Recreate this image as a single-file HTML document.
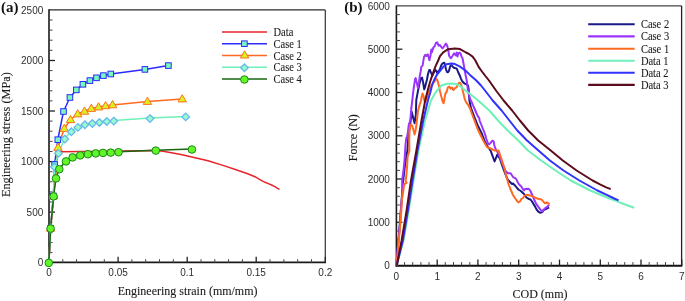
<!DOCTYPE html>
<html><head><meta charset="utf-8"><style>
html,body{margin:0;padding:0;background:#fff;}
body{width:685px;height:301px;overflow:hidden;}
svg{display:block;filter:blur(0.3px);}
.tk{font-family:"Liberation Sans",sans-serif;font-size:10px;fill:#2e2e2e;}
.ti{font-family:"Liberation Serif",serif;font-size:12px;fill:#1a1a1a;stroke:#1a1a1a;stroke-width:0.1px;}
.lg{font-family:"Liberation Serif",serif;font-size:10.5px;fill:#1a1a1a;stroke:#1a1a1a;stroke-width:0.08px;}
.pl{font-family:"Liberation Serif",serif;font-size:13.5px;font-weight:bold;fill:#111;}
</style></head><body>
<svg width="685" height="301" viewBox="0 0 685 301">
<rect width="685" height="301" fill="#fff"/>
<line x1="49.0" y1="9.9" x2="325.3" y2="9.9" stroke="#2a2a2a" stroke-width="1.3"/>
<line x1="325.3" y1="9.9" x2="325.3" y2="262.7" stroke="#333" stroke-width="1.2"/>
<line x1="49.0" y1="9.3" x2="49.0" y2="263.5" stroke="#1a1a1a" stroke-width="1.6"/>
<line x1="48.2" y1="262.34999999999997" x2="325.90000000000003" y2="262.34999999999997" stroke="#1a1a1a" stroke-width="1.6"/>
<line x1="49.0" y1="252.6" x2="52.5" y2="252.6" stroke="#444" stroke-width="1"/>
<line x1="49.0" y1="242.5" x2="52.5" y2="242.5" stroke="#444" stroke-width="1"/>
<line x1="49.0" y1="232.4" x2="52.5" y2="232.4" stroke="#444" stroke-width="1"/>
<line x1="49.0" y1="222.3" x2="52.5" y2="222.3" stroke="#444" stroke-width="1"/>
<line x1="49.0" y1="212.1" x2="55.0" y2="212.1" stroke="#222" stroke-width="1.3"/>
<line x1="49.0" y1="202.0" x2="52.5" y2="202.0" stroke="#444" stroke-width="1"/>
<line x1="49.0" y1="191.9" x2="52.5" y2="191.9" stroke="#444" stroke-width="1"/>
<line x1="49.0" y1="181.8" x2="52.5" y2="181.8" stroke="#444" stroke-width="1"/>
<line x1="49.0" y1="171.7" x2="52.5" y2="171.7" stroke="#444" stroke-width="1"/>
<line x1="49.0" y1="161.6" x2="55.0" y2="161.6" stroke="#222" stroke-width="1.3"/>
<line x1="49.0" y1="151.5" x2="52.5" y2="151.5" stroke="#444" stroke-width="1"/>
<line x1="49.0" y1="141.4" x2="52.5" y2="141.4" stroke="#444" stroke-width="1"/>
<line x1="49.0" y1="131.2" x2="52.5" y2="131.2" stroke="#444" stroke-width="1"/>
<line x1="49.0" y1="121.1" x2="52.5" y2="121.1" stroke="#444" stroke-width="1"/>
<line x1="49.0" y1="111.0" x2="55.0" y2="111.0" stroke="#222" stroke-width="1.3"/>
<line x1="49.0" y1="100.9" x2="52.5" y2="100.9" stroke="#444" stroke-width="1"/>
<line x1="49.0" y1="90.8" x2="52.5" y2="90.8" stroke="#444" stroke-width="1"/>
<line x1="49.0" y1="80.7" x2="52.5" y2="80.7" stroke="#444" stroke-width="1"/>
<line x1="49.0" y1="70.6" x2="52.5" y2="70.6" stroke="#444" stroke-width="1"/>
<line x1="49.0" y1="60.5" x2="55.0" y2="60.5" stroke="#222" stroke-width="1.3"/>
<line x1="49.0" y1="50.3" x2="52.5" y2="50.3" stroke="#444" stroke-width="1"/>
<line x1="49.0" y1="40.2" x2="52.5" y2="40.2" stroke="#444" stroke-width="1"/>
<line x1="49.0" y1="30.1" x2="52.5" y2="30.1" stroke="#444" stroke-width="1"/>
<line x1="49.0" y1="20.0" x2="52.5" y2="20.0" stroke="#444" stroke-width="1"/>
<line x1="62.8" y1="262.7" x2="62.8" y2="259.2" stroke="#444" stroke-width="1"/>
<line x1="76.6" y1="262.7" x2="76.6" y2="259.2" stroke="#444" stroke-width="1"/>
<line x1="90.4" y1="262.7" x2="90.4" y2="259.2" stroke="#444" stroke-width="1"/>
<line x1="104.3" y1="262.7" x2="104.3" y2="259.2" stroke="#444" stroke-width="1"/>
<line x1="118.1" y1="262.7" x2="118.1" y2="256.7" stroke="#222" stroke-width="1.3"/>
<line x1="131.9" y1="262.7" x2="131.9" y2="259.2" stroke="#444" stroke-width="1"/>
<line x1="145.7" y1="262.7" x2="145.7" y2="259.2" stroke="#444" stroke-width="1"/>
<line x1="159.5" y1="262.7" x2="159.5" y2="259.2" stroke="#444" stroke-width="1"/>
<line x1="173.3" y1="262.7" x2="173.3" y2="259.2" stroke="#444" stroke-width="1"/>
<line x1="187.2" y1="262.7" x2="187.2" y2="256.7" stroke="#222" stroke-width="1.3"/>
<line x1="201.0" y1="262.7" x2="201.0" y2="259.2" stroke="#444" stroke-width="1"/>
<line x1="214.8" y1="262.7" x2="214.8" y2="259.2" stroke="#444" stroke-width="1"/>
<line x1="228.6" y1="262.7" x2="228.6" y2="259.2" stroke="#444" stroke-width="1"/>
<line x1="242.4" y1="262.7" x2="242.4" y2="259.2" stroke="#444" stroke-width="1"/>
<line x1="256.2" y1="262.7" x2="256.2" y2="256.7" stroke="#222" stroke-width="1.3"/>
<line x1="270.0" y1="262.7" x2="270.0" y2="259.2" stroke="#444" stroke-width="1"/>
<line x1="283.9" y1="262.7" x2="283.9" y2="259.2" stroke="#444" stroke-width="1"/>
<line x1="297.7" y1="262.7" x2="297.7" y2="259.2" stroke="#444" stroke-width="1"/>
<line x1="311.5" y1="262.7" x2="311.5" y2="259.2" stroke="#444" stroke-width="1"/>
<line x1="325.3" y1="262.7" x2="325.3" y2="256.7" stroke="#222" stroke-width="1.3"/>
<polyline points="48.9,262.6 50.7,228.2 53.6,196.0 57.3,152.0 61.5,151.7 80.0,151.6 100.0,151.4 122.0,150.9 140.0,150.7 155.8,150.6 163.0,151.3 170.0,152.4 181.0,154.5 194.0,157.6 208.0,160.8 223.0,165.4 238.3,170.5 247.0,173.5 255.0,176.7 258.3,178.7 261.6,180.6 265.0,182.3 268.3,183.6 271.6,185.0 274.9,186.6 277.6,188.3 279.6,189.3" fill="none" stroke="#e8232b" stroke-width="1.5" stroke-linejoin="round"/>
<polyline points="48.9,262.6 50.6,228.2 53.4,196.0 54.6,164.5 57.8,139.7 63.5,111.5 69.9,97.5 76.3,89.9 82.9,84.3 89.9,80.6 96.5,77.8 103.4,75.6 110.8,74.0 144.9,69.4 168.4,65.6" fill="none" stroke="#2b2bff" stroke-width="1.5" stroke-linejoin="round"/>
<polyline points="48.9,262.6 50.6,228.2 53.5,196.0 58.0,147.5 64.3,128.5 70.5,119.7 77.7,114.0 84.5,111.3 91.3,108.5 98.5,107.0 105.6,105.8 112.6,104.9 147.4,101.5 182.2,99.0" fill="none" stroke="#ff6a22" stroke-width="1.5" stroke-linejoin="round"/>
<polyline points="48.9,262.6 50.6,228.2 53.3,196.0 54.5,166.5 58.4,152.9 64.8,138.6 71.3,131.3 77.9,126.9 84.9,124.3 92.3,123.0 99.4,122.0 106.8,121.0 113.8,120.6 150.0,118.1 185.7,116.4" fill="none" stroke="#6ef0b8" stroke-width="1.5" stroke-linejoin="round"/>
<polyline points="48.8,262.5 50.6,228.2 53.6,196.0 56.0,178.0 59.3,168.8 66.0,161.0 72.6,157.0 80.2,155.0 87.9,153.8 95.7,153.0 103.0,152.5 110.7,152.2 118.5,151.8 155.8,150.2 191.9,149.1" fill="none" stroke="#1a6412" stroke-width="1.5" stroke-linejoin="round"/>
<rect x="47.8" y="225.4" width="5.6" height="5.6" fill="#7afab8" stroke="#2b2bff" stroke-width="1"/>
<rect x="50.6" y="193.2" width="5.6" height="5.6" fill="#7afab8" stroke="#2b2bff" stroke-width="1"/>
<rect x="51.8" y="161.7" width="5.6" height="5.6" fill="#7afab8" stroke="#2b2bff" stroke-width="1"/>
<rect x="55.0" y="136.9" width="5.6" height="5.6" fill="#7afab8" stroke="#2b2bff" stroke-width="1"/>
<rect x="60.7" y="108.7" width="5.6" height="5.6" fill="#7afab8" stroke="#2b2bff" stroke-width="1"/>
<rect x="67.1" y="94.7" width="5.6" height="5.6" fill="#7afab8" stroke="#2b2bff" stroke-width="1"/>
<rect x="73.5" y="87.1" width="5.6" height="5.6" fill="#7afab8" stroke="#2b2bff" stroke-width="1"/>
<rect x="80.1" y="81.5" width="5.6" height="5.6" fill="#7afab8" stroke="#2b2bff" stroke-width="1"/>
<rect x="87.1" y="77.8" width="5.6" height="5.6" fill="#7afab8" stroke="#2b2bff" stroke-width="1"/>
<rect x="93.7" y="75.0" width="5.6" height="5.6" fill="#7afab8" stroke="#2b2bff" stroke-width="1"/>
<rect x="100.6" y="72.8" width="5.6" height="5.6" fill="#7afab8" stroke="#2b2bff" stroke-width="1"/>
<rect x="108.0" y="71.2" width="5.6" height="5.6" fill="#7afab8" stroke="#2b2bff" stroke-width="1"/>
<rect x="142.1" y="66.6" width="5.6" height="5.6" fill="#7afab8" stroke="#2b2bff" stroke-width="1"/>
<rect x="165.6" y="62.8" width="5.6" height="5.6" fill="#7afab8" stroke="#2b2bff" stroke-width="1"/>
<polygon points="50.6,223.9 46.4,231.1 54.8,231.1" fill="#dcf020" stroke="#ff7020" stroke-width="1"/>
<polygon points="53.5,191.7 49.3,198.9 57.7,198.9" fill="#dcf020" stroke="#ff7020" stroke-width="1"/>
<polygon points="58.0,143.2 53.8,150.4 62.2,150.4" fill="#dcf020" stroke="#ff7020" stroke-width="1"/>
<polygon points="64.3,124.2 60.1,131.4 68.5,131.4" fill="#dcf020" stroke="#ff7020" stroke-width="1"/>
<polygon points="70.5,115.4 66.3,122.6 74.7,122.6" fill="#dcf020" stroke="#ff7020" stroke-width="1"/>
<polygon points="77.7,109.7 73.5,116.9 81.9,116.9" fill="#dcf020" stroke="#ff7020" stroke-width="1"/>
<polygon points="84.5,107.0 80.3,114.2 88.7,114.2" fill="#dcf020" stroke="#ff7020" stroke-width="1"/>
<polygon points="91.3,104.2 87.1,111.4 95.5,111.4" fill="#dcf020" stroke="#ff7020" stroke-width="1"/>
<polygon points="98.5,102.7 94.3,109.9 102.7,109.9" fill="#dcf020" stroke="#ff7020" stroke-width="1"/>
<polygon points="105.6,101.5 101.4,108.7 109.8,108.7" fill="#dcf020" stroke="#ff7020" stroke-width="1"/>
<polygon points="112.6,100.6 108.4,107.8 116.8,107.8" fill="#dcf020" stroke="#ff7020" stroke-width="1"/>
<polygon points="147.4,97.2 143.2,104.4 151.6,104.4" fill="#dcf020" stroke="#ff7020" stroke-width="1"/>
<polygon points="182.2,94.7 178.0,101.9 186.4,101.9" fill="#dcf020" stroke="#ff7020" stroke-width="1"/>
<polygon points="50.6,224.9 54.4,228.7 50.6,232.5 46.8,228.7" fill="#9cfacb" stroke="#64b8f0" stroke-width="1.3"/>
<polygon points="53.3,192.7 57.1,196.5 53.3,200.3 49.5,196.5" fill="#9cfacb" stroke="#64b8f0" stroke-width="1.3"/>
<polygon points="54.5,163.2 58.3,167.0 54.5,170.8 50.7,167.0" fill="#9cfacb" stroke="#64b8f0" stroke-width="1.3"/>
<polygon points="58.4,149.6 62.2,153.4 58.4,157.2 54.6,153.4" fill="#9cfacb" stroke="#64b8f0" stroke-width="1.3"/>
<polygon points="64.8,135.3 68.6,139.1 64.8,142.9 61.0,139.1" fill="#9cfacb" stroke="#64b8f0" stroke-width="1.3"/>
<polygon points="71.3,128.0 75.1,131.8 71.3,135.6 67.5,131.8" fill="#9cfacb" stroke="#64b8f0" stroke-width="1.3"/>
<polygon points="77.9,123.6 81.7,127.4 77.9,131.2 74.1,127.4" fill="#9cfacb" stroke="#64b8f0" stroke-width="1.3"/>
<polygon points="84.9,121.0 88.7,124.8 84.9,128.6 81.1,124.8" fill="#9cfacb" stroke="#64b8f0" stroke-width="1.3"/>
<polygon points="92.3,119.7 96.1,123.5 92.3,127.3 88.5,123.5" fill="#9cfacb" stroke="#64b8f0" stroke-width="1.3"/>
<polygon points="99.4,118.7 103.2,122.5 99.4,126.3 95.6,122.5" fill="#9cfacb" stroke="#64b8f0" stroke-width="1.3"/>
<polygon points="106.8,117.7 110.6,121.5 106.8,125.3 103.0,121.5" fill="#9cfacb" stroke="#64b8f0" stroke-width="1.3"/>
<polygon points="113.8,117.3 117.6,121.1 113.8,124.9 110.0,121.1" fill="#9cfacb" stroke="#64b8f0" stroke-width="1.3"/>
<polygon points="150.0,114.8 153.8,118.6 150.0,122.4 146.2,118.6" fill="#9cfacb" stroke="#64b8f0" stroke-width="1.3"/>
<polygon points="185.7,113.1 189.5,116.9 185.7,120.7 181.9,116.9" fill="#9cfacb" stroke="#64b8f0" stroke-width="1.3"/>
<circle cx="48.8" cy="262.9" r="3.8" fill="#62f52a" stroke="#1a8a14" stroke-width="1"/>
<circle cx="50.6" cy="228.6" r="3.8" fill="#62f52a" stroke="#1a8a14" stroke-width="1"/>
<circle cx="53.6" cy="196.4" r="3.8" fill="#62f52a" stroke="#1a8a14" stroke-width="1"/>
<circle cx="56.0" cy="178.4" r="3.8" fill="#62f52a" stroke="#1a8a14" stroke-width="1"/>
<circle cx="59.3" cy="169.2" r="3.8" fill="#62f52a" stroke="#1a8a14" stroke-width="1"/>
<circle cx="66.0" cy="161.4" r="3.8" fill="#62f52a" stroke="#1a8a14" stroke-width="1"/>
<circle cx="72.6" cy="157.4" r="3.8" fill="#62f52a" stroke="#1a8a14" stroke-width="1"/>
<circle cx="80.2" cy="155.4" r="3.8" fill="#62f52a" stroke="#1a8a14" stroke-width="1"/>
<circle cx="87.9" cy="154.2" r="3.8" fill="#62f52a" stroke="#1a8a14" stroke-width="1"/>
<circle cx="95.7" cy="153.4" r="3.8" fill="#62f52a" stroke="#1a8a14" stroke-width="1"/>
<circle cx="103.0" cy="152.9" r="3.8" fill="#62f52a" stroke="#1a8a14" stroke-width="1"/>
<circle cx="110.7" cy="152.6" r="3.8" fill="#62f52a" stroke="#1a8a14" stroke-width="1"/>
<circle cx="118.5" cy="152.2" r="3.8" fill="#62f52a" stroke="#1a8a14" stroke-width="1"/>
<circle cx="155.8" cy="150.6" r="3.8" fill="#62f52a" stroke="#1a8a14" stroke-width="1"/>
<circle cx="191.9" cy="149.5" r="3.8" fill="#62f52a" stroke="#1a8a14" stroke-width="1"/>
<line x1="222" y1="31.9" x2="267" y2="31.9" stroke="#e8232b" stroke-width="1.5"/>
<text transform="translate(273.5,36.0) scale(1,1.17)" class="lg">Data</text>
<line x1="222" y1="43.7" x2="267" y2="43.7" stroke="#2b2bff" stroke-width="1.5"/>
<rect x="241.6" y="40.9" width="5.6" height="5.6" fill="#7afab8" stroke="#2b2bff" stroke-width="1"/>
<text transform="translate(273.5,47.8) scale(1,1.17)" class="lg">Case 1</text>
<line x1="222" y1="55.5" x2="267" y2="55.5" stroke="#ff6a22" stroke-width="1.5"/>
<polygon points="244.6,50.8 240.4,58.0 248.8,58.0" fill="#dcf020" stroke="#ff7020" stroke-width="1"/>
<text transform="translate(273.5,59.6) scale(1,1.17)" class="lg">Case 2</text>
<line x1="222" y1="67.3" x2="267" y2="67.3" stroke="#6ef0b8" stroke-width="1.5"/>
<polygon points="244.4,64.0 248.2,67.8 244.4,71.6 240.6,67.8" fill="#9cfacb" stroke="#64b8f0" stroke-width="1.3"/>
<text transform="translate(273.5,71.4) scale(1,1.17)" class="lg">Case 3</text>
<line x1="222" y1="79.1" x2="267" y2="79.1" stroke="#1a6412" stroke-width="1.5"/>
<circle cx="244.4" cy="79.5" r="3.8" fill="#62f52a" stroke="#1a8a14" stroke-width="1"/>
<text transform="translate(273.5,83.2) scale(1,1.17)" class="lg">Case 4</text>
<text transform="translate(43.3,266.3)" class="tk" text-anchor="end">0</text>
<text transform="translate(43.3,215.7)" class="tk" text-anchor="end">500</text>
<text transform="translate(43.3,165.2)" class="tk" text-anchor="end">1000</text>
<text transform="translate(43.3,114.6)" class="tk" text-anchor="end">1500</text>
<text transform="translate(43.3,64.1)" class="tk" text-anchor="end">2000</text>
<text transform="translate(43.3,13.5)" class="tk" text-anchor="end">2500</text>
<text transform="translate(49.0,275.6)" class="tk" text-anchor="middle">0</text>
<text transform="translate(118.1,275.6)" class="tk" text-anchor="middle">0.05</text>
<text transform="translate(187.2,275.6)" class="tk" text-anchor="middle">0.1</text>
<text transform="translate(256.2,275.6)" class="tk" text-anchor="middle">0.15</text>
<text transform="translate(325.3,275.6)" class="tk" text-anchor="middle">0.2</text>
<text transform="translate(187.6,294.8) scale(1,1.11)" class="ti" text-anchor="middle">Engineering strain (mm/mm)</text>
<text transform="translate(10.4,134.6) rotate(-90) scale(1,1.08)" class="ti" style="font-size:12.3px" text-anchor="middle">Engineering stress (MPa)</text>
<text x="1.1" y="12.4" class="pl" style="font-size:15px">(a)</text>
<line x1="396.4" y1="5.9" x2="681.8" y2="5.9" stroke="#444" stroke-width="1.1"/>
<line x1="681.5999999999999" y1="5.9" x2="681.5999999999999" y2="265.6" stroke="#222" stroke-width="1.3"/>
<line x1="396.4" y1="5.4" x2="396.4" y2="266.5" stroke="#1a1a1a" stroke-width="1.6"/>
<line x1="395.59999999999997" y1="265.8" x2="682.3" y2="265.8" stroke="#111" stroke-width="2"/>
<line x1="396.4" y1="256.9" x2="399.9" y2="256.9" stroke="#444" stroke-width="1"/>
<line x1="396.4" y1="248.3" x2="399.9" y2="248.3" stroke="#444" stroke-width="1"/>
<line x1="396.4" y1="239.6" x2="399.9" y2="239.6" stroke="#444" stroke-width="1"/>
<line x1="396.4" y1="231.0" x2="399.9" y2="231.0" stroke="#444" stroke-width="1"/>
<line x1="396.4" y1="222.3" x2="402.4" y2="222.3" stroke="#222" stroke-width="1.3"/>
<line x1="396.4" y1="213.7" x2="399.9" y2="213.7" stroke="#444" stroke-width="1"/>
<line x1="396.4" y1="205.0" x2="399.9" y2="205.0" stroke="#444" stroke-width="1"/>
<line x1="396.4" y1="196.3" x2="399.9" y2="196.3" stroke="#444" stroke-width="1"/>
<line x1="396.4" y1="187.7" x2="399.9" y2="187.7" stroke="#444" stroke-width="1"/>
<line x1="396.4" y1="179.0" x2="402.4" y2="179.0" stroke="#222" stroke-width="1.3"/>
<line x1="396.4" y1="170.4" x2="399.9" y2="170.4" stroke="#444" stroke-width="1"/>
<line x1="396.4" y1="161.7" x2="399.9" y2="161.7" stroke="#444" stroke-width="1"/>
<line x1="396.4" y1="153.1" x2="399.9" y2="153.1" stroke="#444" stroke-width="1"/>
<line x1="396.4" y1="144.4" x2="399.9" y2="144.4" stroke="#444" stroke-width="1"/>
<line x1="396.4" y1="135.8" x2="402.4" y2="135.8" stroke="#222" stroke-width="1.3"/>
<line x1="396.4" y1="127.1" x2="399.9" y2="127.1" stroke="#444" stroke-width="1"/>
<line x1="396.4" y1="118.4" x2="399.9" y2="118.4" stroke="#444" stroke-width="1"/>
<line x1="396.4" y1="109.8" x2="399.9" y2="109.8" stroke="#444" stroke-width="1"/>
<line x1="396.4" y1="101.1" x2="399.9" y2="101.1" stroke="#444" stroke-width="1"/>
<line x1="396.4" y1="92.5" x2="402.4" y2="92.5" stroke="#222" stroke-width="1.3"/>
<line x1="396.4" y1="83.8" x2="399.9" y2="83.8" stroke="#444" stroke-width="1"/>
<line x1="396.4" y1="75.2" x2="399.9" y2="75.2" stroke="#444" stroke-width="1"/>
<line x1="396.4" y1="66.5" x2="399.9" y2="66.5" stroke="#444" stroke-width="1"/>
<line x1="396.4" y1="57.8" x2="399.9" y2="57.8" stroke="#444" stroke-width="1"/>
<line x1="396.4" y1="49.2" x2="402.4" y2="49.2" stroke="#222" stroke-width="1.3"/>
<line x1="396.4" y1="40.5" x2="399.9" y2="40.5" stroke="#444" stroke-width="1"/>
<line x1="396.4" y1="31.9" x2="399.9" y2="31.9" stroke="#444" stroke-width="1"/>
<line x1="396.4" y1="23.2" x2="399.9" y2="23.2" stroke="#444" stroke-width="1"/>
<line x1="396.4" y1="14.6" x2="399.9" y2="14.6" stroke="#444" stroke-width="1"/>
<line x1="404.6" y1="265.6" x2="404.6" y2="262.1" stroke="#444" stroke-width="1"/>
<line x1="412.7" y1="265.6" x2="412.7" y2="262.1" stroke="#444" stroke-width="1"/>
<line x1="420.9" y1="265.6" x2="420.9" y2="262.1" stroke="#444" stroke-width="1"/>
<line x1="429.0" y1="265.6" x2="429.0" y2="262.1" stroke="#444" stroke-width="1"/>
<line x1="437.2" y1="265.6" x2="437.2" y2="259.6" stroke="#222" stroke-width="1.3"/>
<line x1="445.3" y1="265.6" x2="445.3" y2="262.1" stroke="#444" stroke-width="1"/>
<line x1="453.5" y1="265.6" x2="453.5" y2="262.1" stroke="#444" stroke-width="1"/>
<line x1="461.6" y1="265.6" x2="461.6" y2="262.1" stroke="#444" stroke-width="1"/>
<line x1="469.8" y1="265.6" x2="469.8" y2="262.1" stroke="#444" stroke-width="1"/>
<line x1="477.9" y1="265.6" x2="477.9" y2="259.6" stroke="#222" stroke-width="1.3"/>
<line x1="486.1" y1="265.6" x2="486.1" y2="262.1" stroke="#444" stroke-width="1"/>
<line x1="494.3" y1="265.6" x2="494.3" y2="262.1" stroke="#444" stroke-width="1"/>
<line x1="502.4" y1="265.6" x2="502.4" y2="262.1" stroke="#444" stroke-width="1"/>
<line x1="510.6" y1="265.6" x2="510.6" y2="262.1" stroke="#444" stroke-width="1"/>
<line x1="518.7" y1="265.6" x2="518.7" y2="259.6" stroke="#222" stroke-width="1.3"/>
<line x1="526.9" y1="265.6" x2="526.9" y2="262.1" stroke="#444" stroke-width="1"/>
<line x1="535.0" y1="265.6" x2="535.0" y2="262.1" stroke="#444" stroke-width="1"/>
<line x1="543.2" y1="265.6" x2="543.2" y2="262.1" stroke="#444" stroke-width="1"/>
<line x1="551.3" y1="265.6" x2="551.3" y2="262.1" stroke="#444" stroke-width="1"/>
<line x1="559.5" y1="265.6" x2="559.5" y2="259.6" stroke="#222" stroke-width="1.3"/>
<line x1="567.6" y1="265.6" x2="567.6" y2="262.1" stroke="#444" stroke-width="1"/>
<line x1="575.8" y1="265.6" x2="575.8" y2="262.1" stroke="#444" stroke-width="1"/>
<line x1="583.9" y1="265.6" x2="583.9" y2="262.1" stroke="#444" stroke-width="1"/>
<line x1="592.1" y1="265.6" x2="592.1" y2="262.1" stroke="#444" stroke-width="1"/>
<line x1="600.3" y1="265.6" x2="600.3" y2="259.6" stroke="#222" stroke-width="1.3"/>
<line x1="608.4" y1="265.6" x2="608.4" y2="262.1" stroke="#444" stroke-width="1"/>
<line x1="616.6" y1="265.6" x2="616.6" y2="262.1" stroke="#444" stroke-width="1"/>
<line x1="624.7" y1="265.6" x2="624.7" y2="262.1" stroke="#444" stroke-width="1"/>
<line x1="632.9" y1="265.6" x2="632.9" y2="262.1" stroke="#444" stroke-width="1"/>
<line x1="641.0" y1="265.6" x2="641.0" y2="259.6" stroke="#222" stroke-width="1.3"/>
<line x1="649.2" y1="265.6" x2="649.2" y2="262.1" stroke="#444" stroke-width="1"/>
<line x1="657.3" y1="265.6" x2="657.3" y2="262.1" stroke="#444" stroke-width="1"/>
<line x1="665.5" y1="265.6" x2="665.5" y2="262.1" stroke="#444" stroke-width="1"/>
<line x1="673.6" y1="265.6" x2="673.6" y2="262.1" stroke="#444" stroke-width="1"/>
<line x1="681.8" y1="265.6" x2="681.8" y2="259.6" stroke="#222" stroke-width="1.3"/>
<polyline points="396.4,265.6 398.5,240.0 400.5,215.0 402.0,195.0 403.0,182.0 405.0,165.0 407.4,150.5 408.5,135.0 410.5,122.0 411.6,111.6 413.3,118.3 414.6,123.2 415.8,114.9 416.3,100.0 417.9,91.4 419.4,84.0 421.0,78.1 422.1,77.6 423.2,82.9 424.2,89.3 425.3,86.1 426.9,80.0 428.0,74.0 429.2,70.0 430.0,70.0 431.2,73.1 432.4,75.5 433.3,73.5 434.3,71.5 435.5,70.0 436.3,71.0 437.1,72.8 438.3,71.5 439.7,69.8 441.0,66.0 442.0,64.0 443.3,63.0 444.3,62.7 445.0,64.7 446.0,69.3 447.0,72.0 448.0,72.3 449.0,70.7 449.7,68.0 450.3,66.0 451.3,65.3 452.3,66.0 453.3,67.3 454.7,68.0 456.0,68.3 456.9,68.8 458.3,72.5 460.0,76.0 460.8,78.4 462.0,80.8 463.2,82.4 464.7,83.6 466.7,84.4 468.0,85.6 468.6,89.0 469.0,95.0 469.4,100.5 471.0,108.0 474.0,116.0 478.0,126.0 482.0,134.0 485.0,142.0 488.0,147.0 490.6,150.6 494.6,161.5 497.3,154.6 499.9,158.6 502.6,166.6 506.6,177.2 508.0,180.0 509.5,181.5 511.0,183.0 512.0,184.0 513.0,183.5 514.0,184.5 515.5,186.0 517.0,188.0 518.4,189.5 520.0,190.5 521.4,191.5 522.4,192.5 524.0,194.0 525.4,196.0 526.4,197.5 528.0,198.5 529.0,199.0 530.5,199.5 532.0,201.5 533.5,204.0 535.0,206.4 536.5,209.4 538.0,211.4 539.5,212.4 541.0,212.7 542.4,211.9 543.4,210.4 545.0,209.4 546.4,208.9 548.0,208.0 549.1,207.4" fill="none" stroke="#1a1a86" stroke-width="2" stroke-linejoin="round"/>
<polyline points="396.4,265.6 398.0,245.0 400.0,225.0 400.8,211.0 402.2,195.0 402.2,180.5 403.8,168.0 404.6,159.5 405.2,150.5 405.5,144.6 406.3,138.0 407.1,137.1 408.0,131.3 408.8,124.6 410.3,120.5 411.3,108.3 412.3,100.5 413.1,92.6 414.0,86.0 415.2,78.6 415.7,78.1 416.8,82.9 417.9,87.7 418.9,82.9 420.0,74.4 420.6,72.0 421.3,66.9 422.6,65.6 424.0,56.9 425.3,54.9 426.3,56.0 427.8,54.3 429.4,60.2 430.5,55.5 431.3,49.6 431.9,52.3 433.3,47.6 434.6,46.3 435.9,43.0 437.2,42.3 438.6,45.6 439.9,45.0 441.2,47.0 442.6,48.3 444.0,46.5 445.9,43.6 447.0,45.0 448.3,50.0 449.1,55.8 450.8,58.3 452.5,56.0 454.1,53.3 455.8,55.5 456.7,52.5 457.5,56.6 458.3,53.3 459.7,52.5 460.8,54.1 461.6,56.6 462.5,58.3 463.6,64.0 465.0,72.0 466.7,80.5 467.3,85.0 468.0,90.5 469.2,96.0 470.8,100.5 472.3,103.5 473.5,106.5 475.3,110.5 477.0,114.5 478.3,117.0 479.2,118.0 479.6,120.5 481.0,124.0 483.6,130.5 485.0,134.0 486.2,138.5 487.7,142.9 489.2,144.4 490.7,142.9 492.2,140.7 493.7,141.4 494.4,145.9 495.9,149.7 497.4,151.9 498.9,154.9 500.4,158.6 501.9,162.4 504.2,167.6 505.3,170.6 507.9,173.2 510.6,173.2 513.2,177.2 515.9,178.6 518.6,183.9 521.2,186.5 523.9,190.5 525.0,189.0 527.0,188.8 529.0,189.0 530.5,191.0 532.0,194.5 533.5,198.0 535.0,201.5 536.5,204.4 538.0,206.4 539.5,208.4 541.0,210.4 542.4,211.4 543.4,210.0 545.0,208.4 546.4,207.4 548.0,206.0 549.1,204.6" fill="none" stroke="#9c34ff" stroke-width="2" stroke-linejoin="round"/>
<polyline points="396.4,265.6 397.5,255.0 398.8,240.5 400.0,228.0 401.0,215.0 401.9,200.0 403.7,188.0 404.4,184.0 406.6,182.8 405.6,180.5 406.3,176.0 407.2,165.0 407.6,157.0 409.4,150.5 409.2,140.0 409.6,129.6 410.5,124.6 412.1,125.5 413.8,131.3 414.6,134.6 415.4,131.3 416.3,126.3 416.9,120.5 417.9,111.6 419.1,106.6 419.9,104.1 421.1,100.5 421.6,96.7 422.6,93.5 423.7,96.7 424.5,101.0 425.5,101.5 426.8,98.0 428.5,92.5 430.5,87.5 432.7,83.3 434.7,81.3 436.0,78.6 437.3,80.0 438.6,84.6 440.0,91.3 441.3,96.6 442.6,101.2 443.6,103.2 444.6,97.9 445.3,93.9 446.6,91.9 447.9,87.3 449.3,86.6 450.6,88.6 452.0,87.5 453.3,90.0 455.2,87.9 456.6,87.3 457.9,84.6 459.2,82.6 460.6,83.3 461.9,87.3 463.2,92.6 464.6,98.6 465.9,101.9 467.9,104.6 469.9,108.2 472.0,114.0 475.0,122.0 478.0,130.0 481.0,136.0 484.0,142.0 487.0,147.0 490.6,148.5 494.6,150.6 498.6,150.6 501.3,158.6 503.9,166.6 506.6,177.2 508.5,184.0 510.0,188.0 511.5,191.5 513.0,195.0 515.0,198.0 517.0,201.0 518.4,202.4 520.0,201.4 521.4,199.0 523.0,198.0 524.4,196.0 526.0,195.0 528.0,195.0 530.0,195.5 533.3,196.6 536.6,198.3 539.1,199.1 541.6,199.6 543.3,201.6 545.0,203.3 546.6,202.4 548.3,203.3 549.6,204.1" fill="none" stroke="#ff6a22" stroke-width="2" stroke-linejoin="round"/>
<polyline points="396.6,265.6 403.5,240.5 408.7,210.5 413.5,180.5 418.4,150.5 425.0,120.5 431.0,100.5 435.5,92.5 441.0,85.8 446.0,84.0 451.0,83.5 456.0,84.0 460.0,85.8 464.4,89.8 467.9,92.5 471.0,94.8 478.2,100.5 489.3,110.5 498.0,120.5 507.7,130.5 518.3,140.5 527.9,150.5 541.1,160.5 555.5,170.5 570.7,180.5 590.4,190.5 599.8,194.5 607.8,197.7 615.8,200.9 623.7,204.0 634.1,207.7" fill="none" stroke="#6ef0b8" stroke-width="2" stroke-linejoin="round"/>
<polyline points="396.6,265.6 402.9,240.5 407.9,210.5 412.6,180.5 417.5,150.5 423.2,120.5 427.9,100.5 430.3,92.5 432.0,85.5 433.9,80.5 437.0,74.5 440.3,70.5 443.3,66.8 446.6,64.3 451.6,63.5 455.0,64.1 460.0,66.6 465.4,70.5 470.0,74.9 476.3,80.5 481.0,85.5 485.0,90.5 492.7,100.5 501.6,110.5 509.4,120.5 517.3,130.5 527.0,140.5 538.4,150.5 549.9,160.5 563.5,170.5 579.4,180.5 597.4,190.5 607.8,195.3 614.2,198.5 618.6,200.4" fill="none" stroke="#3232ff" stroke-width="2" stroke-linejoin="round"/>
<polyline points="396.8,265.6 401.6,240.5 406.6,210.5 411.0,180.5 416.4,150.5 421.5,120.5 425.2,100.5 428.0,89.3 430.1,81.8 432.2,75.5 434.0,70.3 435.6,66.2 438.2,60.5 440.0,56.2 443.2,52.3 448.2,49.2 454.8,48.4 460.0,49.1 466.0,52.5 469.3,54.2 472.6,56.6 475.1,60.0 476.8,63.3 478.5,66.6 481.2,70.5 485.0,75.5 489.0,80.5 496.0,90.5 503.6,100.5 512.1,110.5 519.9,120.5 528.2,130.5 538.2,140.5 550.7,150.5 562.8,160.5 576.6,170.5 592.6,180.5 600.0,184.3 606.2,187.3 610.7,189.2" fill="none" stroke="#5c0c1c" stroke-width="2" stroke-linejoin="round"/>
<line x1="588.2" y1="24.2" x2="634.7" y2="24.2" stroke="#1a1a86" stroke-width="2.1"/>
<text transform="translate(640.9,28.0) scale(1,1.17)" class="lg">Case 2</text>
<line x1="588.2" y1="36.4" x2="634.7" y2="36.4" stroke="#9c34ff" stroke-width="2.1"/>
<text transform="translate(640.9,40.2) scale(1,1.17)" class="lg">Case 3</text>
<line x1="588.2" y1="48.8" x2="634.7" y2="48.8" stroke="#ff6a22" stroke-width="2.1"/>
<text transform="translate(640.9,52.6) scale(1,1.17)" class="lg">Case 1</text>
<line x1="588.2" y1="60.8" x2="634.7" y2="60.8" stroke="#6ef0b8" stroke-width="2.1"/>
<text transform="translate(640.9,64.6) scale(1,1.17)" class="lg">Data 1</text>
<line x1="588.2" y1="72.8" x2="634.7" y2="72.8" stroke="#3232ff" stroke-width="2.1"/>
<text transform="translate(640.9,76.6) scale(1,1.17)" class="lg">Data 2</text>
<line x1="588.2" y1="84.9" x2="634.7" y2="84.9" stroke="#5c0c1c" stroke-width="2.1"/>
<text transform="translate(640.9,88.7) scale(1,1.17)" class="lg">Data 3</text>
<text x="389.9" y="269.2" class="tk" text-anchor="end">0</text>
<text x="389.9" y="225.9" class="tk" text-anchor="end">1000</text>
<text x="389.9" y="182.6" class="tk" text-anchor="end">2000</text>
<text x="389.9" y="139.3" class="tk" text-anchor="end">3000</text>
<text x="389.9" y="96.1" class="tk" text-anchor="end">4000</text>
<text x="389.9" y="52.8" class="tk" text-anchor="end">5000</text>
<text x="389.9" y="9.5" class="tk" text-anchor="end">6000</text>
<text x="396.4" y="280" class="tk" text-anchor="middle">0</text>
<text x="437.2" y="280" class="tk" text-anchor="middle">1</text>
<text x="477.9" y="280" class="tk" text-anchor="middle">2</text>
<text x="518.7" y="280" class="tk" text-anchor="middle">3</text>
<text x="559.5" y="280" class="tk" text-anchor="middle">4</text>
<text x="600.3" y="280" class="tk" text-anchor="middle">5</text>
<text x="641.0" y="280" class="tk" text-anchor="middle">6</text>
<text x="681.8" y="280" class="tk" text-anchor="middle">7</text>
<text x="540" y="297.9" class="ti" text-anchor="middle">COD (mm)</text>
<text transform="translate(356.6,137.7) rotate(-90)" class="ti" text-anchor="middle">Force (N)</text>
<text x="344.2" y="12.4" class="pl" style="font-size:15px">(b)</text>
</svg>
</body></html>
